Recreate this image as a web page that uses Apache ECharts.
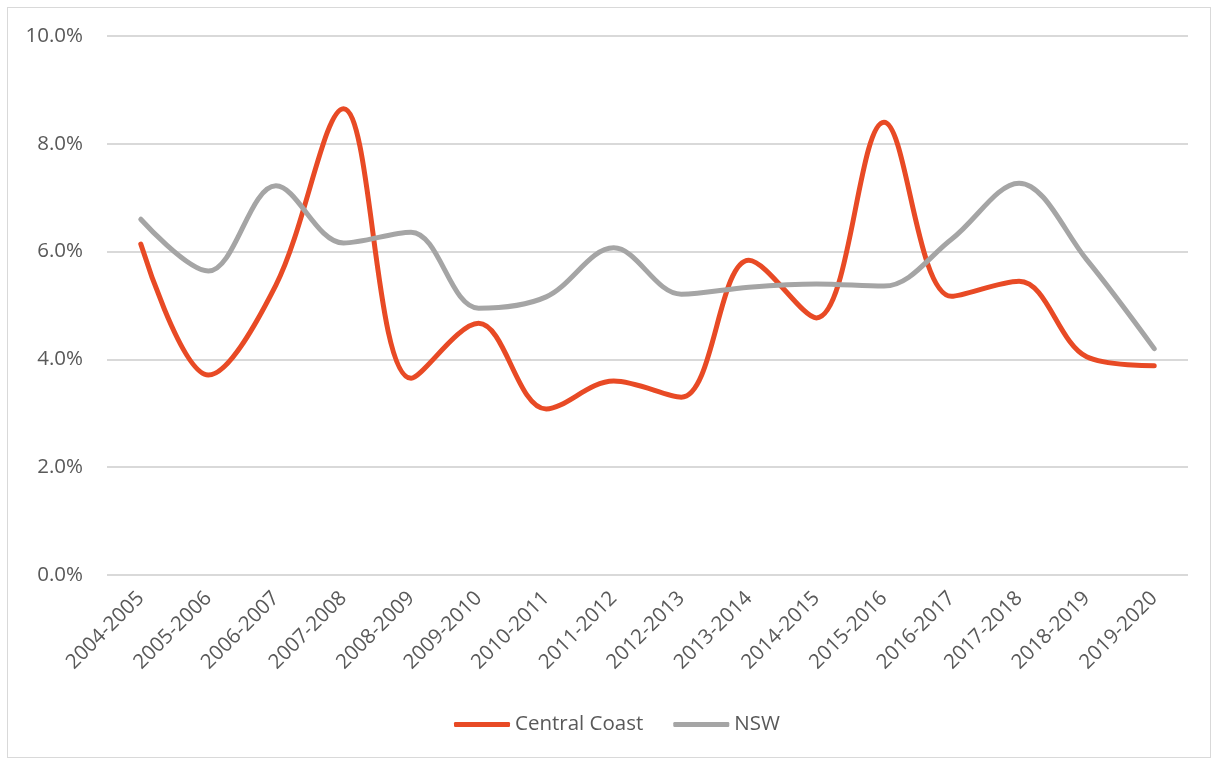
<!DOCTYPE html>
<html>
<head>
<meta charset="utf-8">
<script src="https://cdn.jsdelivr.net/npm/echarts@6/dist/echarts.min.js"></script>
<style>
  html, body { margin: 0; padding: 0; background: #fff; }
  #chart { position: relative; width: 1213px; height: 760px; }
  #frame { position: absolute; left: 7px; top: 7px; width: 1202px; height: 749px; border: 1px solid #d9d9d9; pointer-events: none; }
</style>
</head>
<body>
<div id="chart"></div>
<div id="frame"></div>
<script>
const years = [
  "2004-2005", "2005-2006", "2006-2007", "2007-2008", "2008-2009", "2009-2010",
  "2010-2011", "2011-2012", "2012-2013", "2013-2014", "2014-2015", "2015-2016",
  "2016-2017", "2017-2018", "2018-2019", "2019-2020"
];
const centralCoast = [6.14, 3.71, 5.38, 8.65, 3.65, 4.67, 3.08, 3.6, 3.3, 5.84, 4.77, 8.4, 5.17, 5.45, 4.05, 3.88];
const nsw = [6.6, 5.64, 7.22, 6.16, 6.36, 4.95, 5.16, 6.07, 5.21, 5.34, 5.4, 5.36, 6.23, 7.27, 5.85, 4.2];

const font = "'Open Sans', 'Liberation Sans', sans-serif";
const textColor = "#595959";

const chart = echarts.init(document.getElementById("chart"));

const option = {
  animation: false,
  grid: { left: 107, right: 25, top: 36, bottom: 185, containLabel: false },
  legend: {
    bottom: 20,
    left: 449,
    icon: "roundRect",
    itemWidth: 56,
    itemHeight: 5,
    itemGap: 30,
    textStyle: { color: textColor, fontFamily: font, fontSize: 20.5 },
    data: ["Central Coast", "NSW"]
  },
  xAxis: {
    type: "category",
    data: years,
    boundaryGap: true,
    axisLine: { show: false },
    axisTick: { show: false },
    axisLabel: {
      rotate: 45,
      interval: 0,
      margin: 20,
      color: textColor,
      fontFamily: font,
      fontSize: 20.5
    }
  },
  yAxis: {
    type: "value",
    min: 0,
    max: 10,
    interval: 2,
    axisLine: { show: false },
    axisTick: { show: false },
    axisLabel: {
      margin: 24,
      color: textColor,
      fontFamily: font,
      fontSize: 20.5,
      formatter: (v) => v.toFixed(1) + "%"
    },
    splitLine: { lineStyle: { color: "#d9d9d9", width: 2 } }
  },
  series: [
    {
      name: "Central Coast",
      type: "line",
      data: centralCoast,
      smooth: 0.35,
      symbol: "none",
      lineStyle: { color: "#e84a25", width: 5, cap: "round" },
      itemStyle: { color: "#e84a25" }
    },
    {
      name: "NSW",
      type: "line",
      data: nsw,
      smooth: 0.35,
      symbol: "none",
      lineStyle: { color: "#a5a5a5", width: 5, cap: "round" },
      itemStyle: { color: "#a5a5a5" }
    }
  ]
};

chart.setOption(option);
window.addEventListener("resize", () => chart.resize());
</script>
</body>
</html>
